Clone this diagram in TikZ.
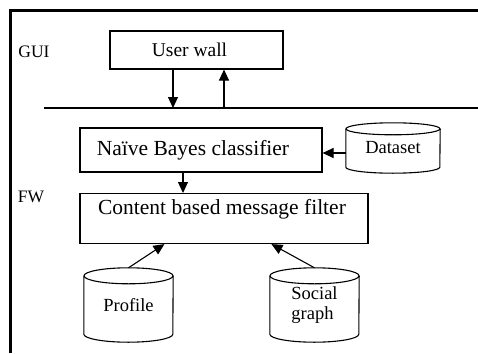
\documentclass[tikz,border=0pt]{standalone}
\usepackage{fontspec}
\setmainfont{Liberation Serif}
\usetikzlibrary{arrows.meta,calc}

\tikzset{
  boxline/.style={draw=black, line width=1.1pt},
  block/.style={boxline, rectangle, inner sep=0pt, font=\fontsize{21.5}{24}\selectfont},
  drum/.style={rectangle, inner sep=0pt, align=center, font=\fontsize{18.5}{19.5}\selectfont},
  tag/.style={inner sep=0pt, font=\fontsize{17.5}{19}\selectfont},
  arr/.style={line width=1.1pt, -{Triangle[width=10pt,length=11pt]}},
}

% cylinder outline around a named, undrawn node: #1 node, #2 x radius, #3 y radius
\newcommand\drumoutline[3]{%
  \draw[boxline] ([yshift=-#3pt]#1.north west) -- ([yshift=#3pt]#1.south west)
     arc[start angle=180, end angle=360, x radius=#2pt, y radius=#3pt]
     -- ([yshift=-#3pt]#1.north east);
  \draw[boxline] ([yshift=-#3pt]#1.north) ellipse[x radius=#2pt, y radius=#3pt];
}

\begin{document}
\begin{tikzpicture}[x=1pt, y=-1pt]
  \useasboundingbox (0,0) rectangle (478,353);

  % partial outer frame
  \coordinate (frameTL) at (10.5,10.5);
  \coordinate (frameTR) at (478,10.5);
  \coordinate (frameBL) at (10.5,353);
  \draw[line width=2.4pt] (frameTR) -- (frameTL) -- (frameBL);

  % layer labels
  \node[tag] (gui) at (34,52) {GUI};
  \node[tag] (fw) at (31,197) {FW};

  % GUI layer
  \node[block, minimum width=173, minimum height=38, font=\fontsize{19.5}{22}\selectfont]
        (wall) at (196.5,50) {User wall\hspace*{14pt}};

  % separator between layers
  \coordinate (busL) at (44,108);
  \coordinate (busR) at (478,108);
  \draw[line width=1.1pt] (busL) -- (busR);
  \coordinate (dn) at (173,108);
  \coordinate (up) at (224,108);
  \draw[arr] (wall.south -| dn) -- (dn);
  \draw[arr] (up) -- (wall.south -| up);

  % filtering layer
  \node[block, minimum width=242, minimum height=44] (nb) at (201,150)
        {Naïve Bayes classifier\hspace*{16pt}};
  \node[block, minimum width=288, minimum height=50, anchor=north,
        inner ysep=5pt, text height=15pt, text depth=24pt] (filter) at (224,193)
        {Content based message filter\hspace*{4pt}};

  \node[drum, minimum width=94, minimum height=50] (data) at (393,148) {Dataset};
  \drumoutline{data}{47}{6}
  \node[drum, minimum width=89, minimum height=74] (profile) at (128.5,305) {Profile};
  \drumoutline{profile}{44.5}{8}
  \node[drum, minimum width=89, minimum height=74, align=left] (social) at (314.5,305)
        {Social\\graph};
  \drumoutline{social}{44.5}{8}

  % connectors
  \draw[arr] ([yshift=-5pt]data.west) -- ([yshift=-5pt]data.west -| nb.east);
  \coordinate (nbout) at (183,172);
  \draw[arr] (nb.south -| nbout) -- (filter.north -| nbout);
  \draw[arr] (profile.north) -- ($(filter.south west)+(85,0)$);
  \draw[arr] (social.north) -- ($(filter.south west)+(192,0)$);
\end{tikzpicture}
\end{document}
